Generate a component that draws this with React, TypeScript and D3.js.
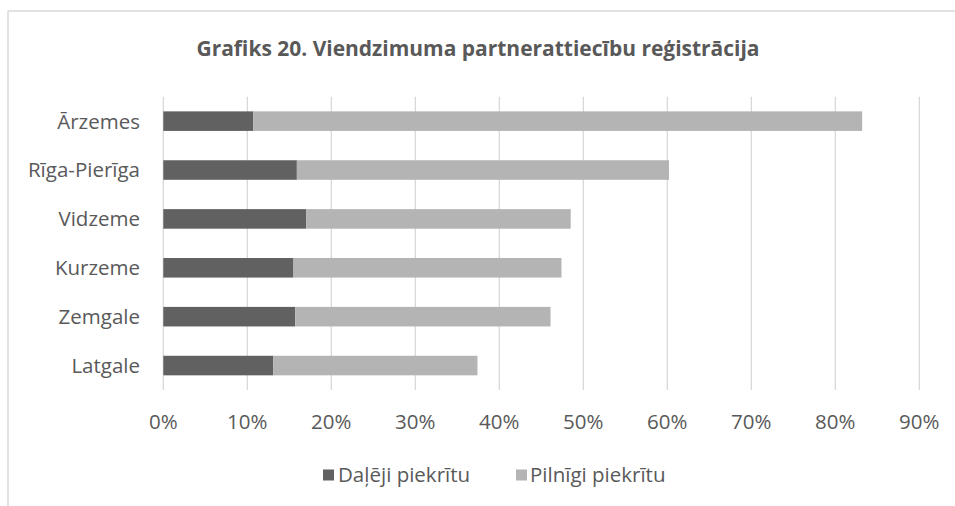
import React from "react";
import * as d3 from "d3";

const categories = ["Ārzemes", "Rīga-Pierīga", "Vidzeme", "Kurzeme", "Zemgale", "Latgale"];
const partlyAgree = [0.107, 0.159, 0.170, 0.155, 0.157, 0.131];
const fullyAgree = [0.725, 0.443, 0.315, 0.319, 0.304, 0.243];
const tickValues = [0, 0.1, 0.2, 0.3, 0.4, 0.5, 0.6, 0.7, 0.8, 0.9];
const seriesNames = ["Daļēji piekrītu", "Pilnīgi piekrītu"];
const title = "Grafiks 20. Viendzimuma partnerattiecību reģistrācija";

const W = 955;
const H = 506;
const colors = ["#616161", "#b4b4b4"];
const textColor = "#595959";
const gridColor = "#d9d9d9";
const font = "'Open Sans', 'DejaVu Sans', sans-serif";

export default function App() {
  const x = d3.scaleLinear().domain([0, 0.9]).range([163.3, 919.3]);
  const y = d3
    .scaleBand<string>()
    .domain(categories)
    .range([96.7, 390])
    .paddingInner(0.6)
    .paddingOuter(0.3);

  const rows = categories.map((c, i) => ({
    cat: c,
    partly: partlyAgree[i],
    fully: fullyAgree[i],
  }));
  const stack = d3.stack<any>().keys(["partly", "fully"])(rows);
  const fmt = d3.format(".0%");

  const legendItems = [
    { name: seriesNames[0], sx: 323, tx: 338 },
    { name: seriesNames[1], sx: 516, tx: 530 },
  ];

  return (
    <svg
      width={W}
      height={H}
      style={{ position: "absolute", left: 0, top: 0, background: "#fff" }}
      fontFamily={font}
    >
      <rect x={0} y={0} width={W} height={H} fill="#fff" />
      {/* chart frame */}
      <line x1={8} x2={W} y1={11} y2={11} stroke={gridColor} strokeWidth={1.5} />
      <line x1={8} x2={8} y1={11} y2={H} stroke={gridColor} strokeWidth={1.5} />

      {/* title */}
      <text
        x={478}
        y={56}
        textAnchor="middle"
        fontSize={22}
        fontWeight="bold"
        fill={textColor}
        textLength={563}
        lengthAdjust="spacingAndGlyphs"
      >
        {title}
      </text>

      {/* gridlines */}
      {tickValues.map((t) => (
        <line
          key={"g" + t}
          x1={x(t)}
          x2={x(t)}
          y1={96.7}
          y2={390}
          stroke={gridColor}
          strokeWidth={1.3}
        />
      ))}

      {/* bars */}
      {stack.map((layer, si) =>
        layer.map((d, i) => (
          <rect
            key={si + "-" + i}
            x={x(d[0])}
            y={y(categories[i])}
            width={x(d[1]) - x(d[0])}
            height={y.bandwidth()}
            fill={colors[si]}
          />
        ))
      )}

      {/* category labels */}
      {categories.map((c) => (
        <text
          key={"c" + c}
          x={140}
          y={(y(c) as number) + y.bandwidth() / 2}
          dy="0.36em"
          textAnchor="end"
          fontSize={20.5}
          fill={textColor}
        >
          {c}
        </text>
      ))}

      {/* tick labels */}
      {tickValues.map((t) => (
        <text
          key={"t" + t}
          x={x(t)}
          y={428.5}
          textAnchor="middle"
          fontSize={20.5}
          fill={textColor}
        >
          {fmt(t)}
        </text>
      ))}

      {/* legend */}
      {legendItems.map((l, i) => (
        <g key={"l" + i}>
          <rect x={l.sx} y={469.5} width={11} height={11} fill={colors[i]} />
          <text x={l.tx} y={482} fontSize={20.5} fill={textColor}>
            {l.name}
          </text>
        </g>
      ))}
    </svg>
  );
}
